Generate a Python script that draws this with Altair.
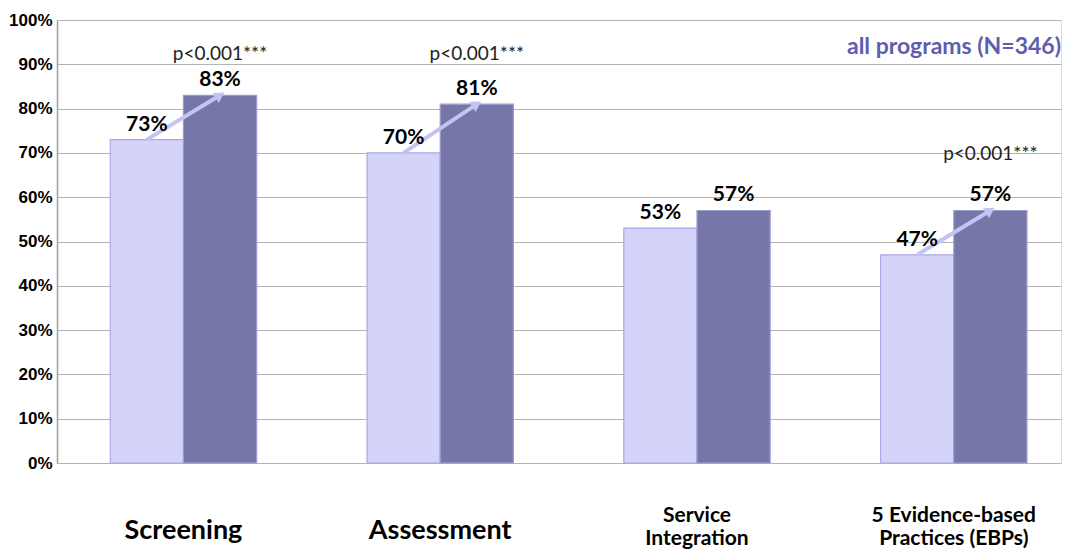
import altair as alt
import pandas as pd

categories = ["Screening", "Assessment", "Service Integration", "5 Evidence-based Practices (EBPs)"]
category_lines = [["Screening"], ["Assessment"], ["Service", "Integration"],
                  ["5 Evidence-based", "Practices (EBPs)"]]
periods = ["before", "after"]
before = [73, 70, 53, 47]
after = [83, 81, 57, 57]
sig_categories = ["Screening", "Assessment", "5 Evidence-based Practices (EBPs)"]
sig_labels = ["p<0.001***", "p<0.001***", "p<0.001***"]
sig_y = [91.0, 91.0, 68.5]
y_ticks = [0, 10, 20, 30, 40, 50, 60, 70, 80, 90, 100]
title_text = ["all programs (N=346)"]
title_y = [92.3]

rows = []
for c, b, a in zip(categories, before, after):
    rows.append({"category": c, "period": "before", "value": b, "label": f"{b}%"})
    rows.append({"category": c, "period": "after", "value": a, "label": f"{a}%"})
df = pd.DataFrame(rows)
arrows = df[df["category"].isin(sig_categories)]
heads = arrows[arrows["period"] == "after"]
sig = pd.DataFrame({"category": sig_categories, "period": ["after"] * 3,
                    "label": sig_labels, "y": sig_y})
ttl = pd.DataFrame({"label": title_text, "y": title_y})
xl = pd.DataFrame({"category": categories, "lines": category_lines,
                   "n": [len(l) for l in category_lines]})
xl_single = xl[xl["n"] == 1]
xl_double = xl[xl["n"] == 2]

W, H = 1004, 443
xscale = alt.Scale(domain=categories, paddingInner=0.43, paddingOuter=0.17, align=0.61)
oscale = alt.Scale(domain=periods, paddingInner=0, paddingOuter=0)
yscale = alt.Scale(domain=[0, 100], nice=False)

x_enc = alt.X("category:N", scale=xscale, title=None, axis=None)
y_enc = alt.Y("value:Q", scale=yscale, title=None,
              axis=alt.Axis(values=y_ticks, labelExpr="datum.value + '%'", labelFont="Liberation Sans",
                            labelFontWeight="bold", labelFontSize=17, labelColor="#000000",
                            tickSize=0, labelPadding=5, grid=True, gridColor="#B4B4B4",
                            gridWidth=1.2, domainColor="#A0A0A0", domainWidth=1.5))
off = alt.XOffset("period:N", scale=oscale)

base = alt.Chart(df)
bars = base.mark_bar(strokeWidth=1.2).encode(
    x=x_enc, xOffset=off, y=y_enc,
    color=alt.Color("period:N", scale=alt.Scale(domain=periods, range=["#D4D4FB", "#7777A7"]), legend=None),
    stroke=alt.Stroke("period:N", scale=alt.Scale(domain=periods, range=["#A8A8E4", "#9C9CD4"]), legend=None),
)
values = base.mark_text(font="Lato", fontWeight="bold", fontSize=21, baseline="bottom", dy=-5,
                        color="#000000").encode(
    x=alt.X("category:N", scale=xscale), xOffset=off, y=alt.Y("value:Q", scale=yscale), text="label:N")

arrow_line = alt.Chart(arrows).mark_line(color="#C4C4F4", strokeWidth=4).encode(
    x=alt.X("category:N", scale=xscale), xOffset=off, y=alt.Y("value:Q", scale=yscale),
    detail="category:N")
arrow_head = alt.Chart(heads).mark_point(shape="triangle-up", angle=58, size=140, filled=True,
                                         color="#C4C4F4", opacity=1).encode(
    x=alt.X("category:N", scale=xscale), xOffset=off, y=alt.Y("value:Q", scale=yscale))

sig_text = alt.Chart(sig).mark_text(font="Lato", fontSize=19, baseline="alphabetic",
                                    color="#222222").encode(
    x=alt.X("category:N", scale=xscale), xOffset=off, y=alt.Y("y:Q", scale=yscale), text="label:N")

title_mark = alt.Chart(ttl).mark_text(font="Lato", fontSize=23, fontWeight="bold", align="right",
                                      baseline="alphabetic", color="#5E5EB0").encode(
    x=alt.value(W), y=alt.Y("y:Q", scale=yscale), text="label:N")

xlab1 = alt.Chart(xl_single).mark_text(font="Lato", fontWeight="bold", fontSize=27,
                                       baseline="alphabetic", color="#000000").encode(
    x=alt.X("category:N", scale=xscale), y=alt.value(H + 76), text="lines:N")
xlab2 = alt.Chart(xl_double).mark_text(font="Lato", fontWeight="bold", fontSize=21, lineHeight=23,
                                       baseline="alphabetic", color="#000000").encode(
    x=alt.X("category:N", scale=xscale), y=alt.value(H + 59), text="lines:N")

chart = alt.layer(bars, arrow_line, arrow_head, values, sig_text, title_mark, xlab1, xlab2).properties(
    width=W, height=H,
    autosize=alt.AutoSizeParams(type="none"),
    padding={"left": 49, "top": 12, "right": 1, "bottom": 86},
).configure_view(stroke=None).configure(background="white")

chart.save("out.html", embed_options={"renderer": "svg", "actions": False})
